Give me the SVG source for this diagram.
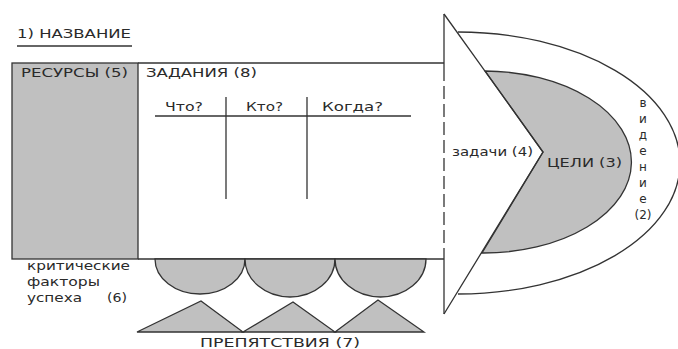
<svg xmlns="http://www.w3.org/2000/svg" width="678" height="349" viewBox="0 0 678 349">
<style>
text{font-family:"DejaVu Sans","Liberation Sans",sans-serif;font-size:12px;fill:#2a2a2a}
.ln{stroke:#333;stroke-width:1.3;fill:none}
.gf{fill:#c0c0c0;stroke:#333;stroke-width:1.3}
.dash{stroke:#333;stroke-width:1.3;stroke-dasharray:13 5;fill:none}
</style>
<rect width="678" height="349" fill="#fff"/>
<g id="title">
<text x="17" y="38" textLength="114" lengthAdjust="spacingAndGlyphs">1) НАЗВАНИЕ</text>
<line class="ln" x1="17" y1="46" x2="132" y2="46"/>
</g>
<g id="vision">
<path class="ln" d="M458,32 A222,131 0 0 1 458,294"/>
<text x="643" y="107" text-anchor="middle">в<tspan x="643" dy="16">и</tspan><tspan x="643" dy="16">д</tspan><tspan x="643" dy="16">е</tspan><tspan x="643" dy="16">н</tspan><tspan x="643" dy="16">и</tspan><tspan x="643" dy="16">е</tspan><tspan x="643" dy="16">(2)</tspan></text>
</g>
<g id="goals">
<path class="gf" d="M485,71 A148,91 0 0 1 482,253 L543,152 Z"/>
<text x="547" y="167" textLength="75" lengthAdjust="spacingAndGlyphs">ЦЕЛИ (3)</text>
</g>
<g id="tasks-triangle">
<polyline class="ln" points="444,14 543,152 444,314"/>
<line class="ln" x1="444" y1="14" x2="444" y2="81"/>
<line class="dash" x1="444" y1="86" x2="444" y2="245"/>
<line class="ln" x1="444" y1="248" x2="444" y2="314"/>
<text x="452" y="156" textLength="81" lengthAdjust="spacingAndGlyphs">задачи (4)</text>
</g>
<g id="resources">
<rect class="gf" x="12" y="63" width="126" height="196"/>
<text x="21" y="77" textLength="107" lengthAdjust="spacingAndGlyphs">РЕСУРСЫ (5)</text>
</g>
<g id="assignments">
<line class="ln" x1="138" y1="63" x2="444" y2="63"/>
<line class="ln" x1="138" y1="259" x2="444" y2="259"/>
<text x="146" y="77" textLength="111" lengthAdjust="spacingAndGlyphs">ЗАДАНИЯ (8)</text>
<text x="165" y="111" textLength="38" lengthAdjust="spacingAndGlyphs">Что?</text>
<text x="246" y="111" textLength="37" lengthAdjust="spacingAndGlyphs">Кто?</text>
<text x="322" y="111" textLength="61" lengthAdjust="spacingAndGlyphs">Когда?</text>
<line class="ln" x1="155" y1="116" x2="411" y2="116"/>
<line class="ln" x1="226" y1="97" x2="226" y2="199"/>
<line class="ln" x1="307" y1="97" x2="307" y2="199"/>
</g>
<g id="success-factors">
<path class="gf" d="M155,259 A45,35 0 0 0 245,259 Z"/>
<path class="gf" d="M245,259 A45,38 0 0 0 335,259 Z"/>
<path class="gf" d="M335,259 A45.5,38 0 0 0 426,259 Z"/>
<text x="27" y="270" textLength="103" lengthAdjust="spacingAndGlyphs">критические</text>
<text x="27" y="286" textLength="73" lengthAdjust="spacingAndGlyphs">факторы</text>
<text x="27" y="302" textLength="55" lengthAdjust="spacingAndGlyphs">успеха</text>
<text x="107" y="302" textLength="20" lengthAdjust="spacingAndGlyphs">(6)</text>
</g>
<g id="obstacles">
<polygon class="gf" points="137,332 201,301 243,332"/>
<polygon class="gf" points="243,332 293,302 335,332"/>
<polygon class="gf" points="335,332 378,300 424,332"/>
<text x="200" y="347" textLength="160" lengthAdjust="spacingAndGlyphs">ПРЕПЯТСТВИЯ (7)</text>
</g>
</svg>
